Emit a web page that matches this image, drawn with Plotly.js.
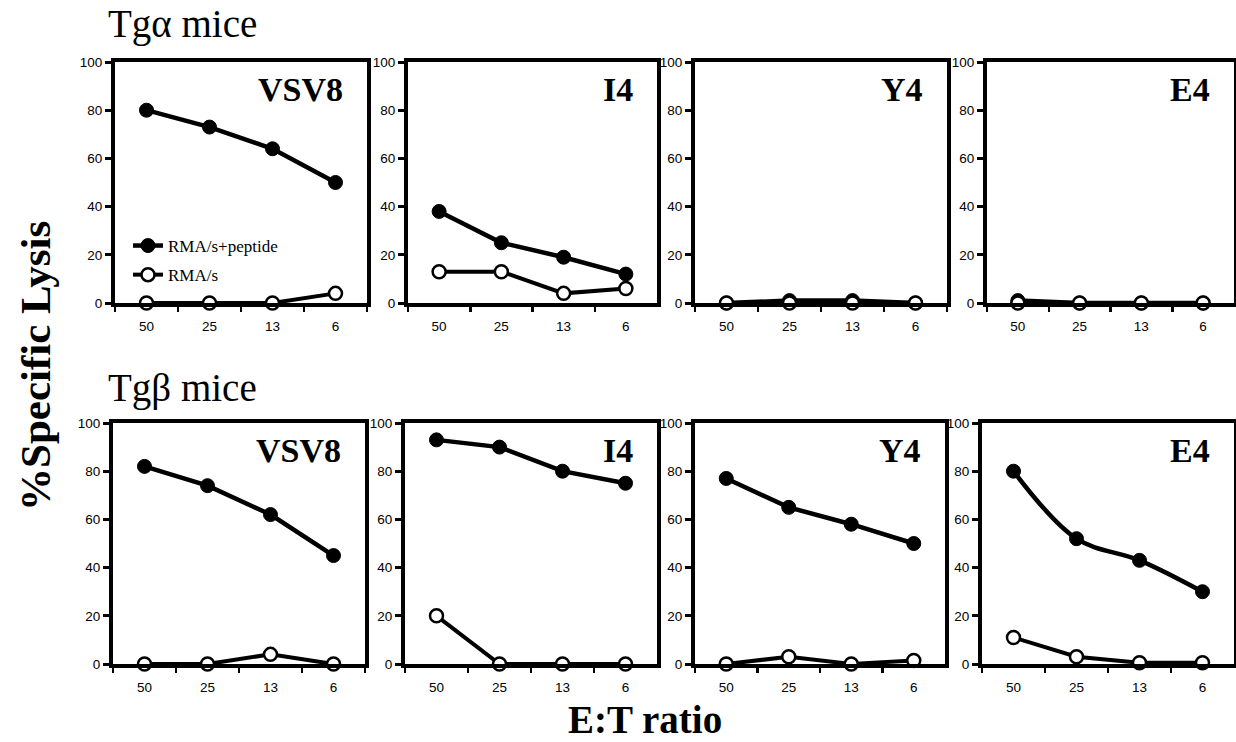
<!DOCTYPE html>
<html>
<head>
<meta charset="utf-8">
<script src="https://cdn.plot.ly/plotly-3.0.1.min.js"></script>
<style>html,body{margin:0;padding:0;background:#fff;}#chart{width:1236px;height:742px;}</style>
</head>
<body>
<div id="chart"></div>
<script>
// ---- data ----
const categories = ["50", "25", "13", "6"];
const panelNames = ["VSV8", "I4", "Y4", "E4"];
const rowTitles = ["Tg\u03b1 mice", "Tg\u03b2 mice"];
const seriesNames = ["RMA/s+peptide", "RMA/s"];

// Tg alpha mice (top row)
const tgaPeptide_VSV8 = [80, 73, 64, 50];
const tgaPeptide_I4   = [38, 25, 19, 12];
const tgaPeptide_Y4   = [0, 1, 1, 0];
const tgaPeptide_E4   = [1, 0, 0, 0];
const tgaRMAs_VSV8 = [0, 0, 0, 4];
const tgaRMAs_I4   = [13, 13, 4, 6];
const tgaRMAs_Y4   = [0, 0, 0, 0];
const tgaRMAs_E4   = [0, 0, 0, 0];

// Tg beta mice (bottom row)
const tgbPeptide_VSV8 = [82, 74, 62, 45];
const tgbPeptide_I4   = [93, 90, 80, 75];
const tgbPeptide_Y4   = [77, 65, 58, 50];
const tgbPeptide_E4   = [80, 52, 43, 30];
const tgbRMAs_VSV8 = [0, 0, 4, 0];
const tgbRMAs_I4   = [20, 0, 0, 0];
const tgbRMAs_Y4   = [0, 3, 0, 1.5];
const tgbRMAs_E4   = [11, 3, 0.5, 0.5];

const yTickVals = [0, 20, 40, 60, 80, 100];

const peptideRows = [
  [tgaPeptide_VSV8, tgaPeptide_I4, tgaPeptide_Y4, tgaPeptide_E4],
  [tgbPeptide_VSV8, tgbPeptide_I4, tgbPeptide_Y4, tgbPeptide_E4]
];
const rmasRows = [
  [tgaRMAs_VSV8, tgaRMAs_I4, tgaRMAs_Y4, tgaRMAs_E4],
  [tgbRMAs_VSV8, tgbRMAs_I4, tgbRMAs_Y4, tgbRMAs_E4]
];

// ---- layout geometry (pixels) ----
const W = 1236, H = 742;
const lefts  = [[115, 408, 695, 987], [113, 405, 695, 982]];
const rights = [[367, 657, 947, 1234], [365, 657, 945, 1234]];
const tops = [62, 423], bottoms = [303, 664];

const serif = "Liberation Serif, Times New Roman, serif";
const sans = "Liberation Sans, Arial, sans-serif";

const traces = [];
const layout = {
  width: W, height: H,
  margin: {l: 0, r: 0, t: 0, b: 0},
  paper_bgcolor: "#fff", plot_bgcolor: "#fff",
  showlegend: true,
  legend: {
    x: 128 / W, y: 1 - 228 / H, xanchor: "left", yanchor: "top",
    bgcolor: "rgba(0,0,0,0)", borderwidth: 0,
    font: {family: serif, size: 17, color: "#000"},
    tracegroupgap: 4, itemwidth: 30
  },
  annotations: []
};

let idx = 0;
for (let r = 0; r < 2; r++) {
  for (let c = 0; c < 4; c++) {
    idx++;
    const xa = "x" + (idx === 1 ? "" : idx);
    const ya = "y" + (idx === 1 ? "" : idx);
    const xkey = "xaxis" + (idx === 1 ? "" : idx);
    const ykey = "yaxis" + (idx === 1 ? "" : idx);
    layout[xkey] = {
      domain: [lefts[r][c] / W, rights[r][c] / W],
      anchor: ya,
      type: "category",
      categoryorder: "array", categoryarray: categories,
      range: [-0.5, 3.5],
      showline: true, linewidth: 4, linecolor: "#000", mirror: true,
      ticks: "outside", tickson: "boundaries", ticklen: 5, tickwidth: 2.5, tickcolor: "#000",
      ticklabelstandoff: 8,
      showgrid: false, zeroline: false, fixedrange: true,
      tickfont: {family: sans, size: 13.5, color: "#000"}
    };
    layout[ykey] = {
      domain: [1 - bottoms[r] / H, 1 - tops[r] / H],
      anchor: xa,
      range: [0, 100],
      tickvals: yTickVals,
      showline: true, linewidth: 4, linecolor: "#000", mirror: true,
      ticks: "outside", ticklen: 6, tickwidth: 3, tickcolor: "#000",
      showgrid: false, zeroline: false, fixedrange: true,
      tickfont: {family: sans, size: 13.5, color: "#000"}
    };
    const showLeg = (idx === 1);
    traces.push({
      x: categories, y: peptideRows[r][c], xaxis: xa, yaxis: ya,
      type: "scatter", mode: "lines+markers", name: seriesNames[0],
      legendgroup: "pep", showlegend: showLeg, cliponaxis: false,
      line: {color: "#000", width: 4.5, shape: (r === 1 && c === 3) ? "spline" : "linear"},
      marker: {symbol: "circle", size: 14, color: "#000", line: {color: "#000", width: 1}}
    });
    traces.push({
      x: categories, y: rmasRows[r][c], xaxis: xa, yaxis: ya,
      type: "scatter", mode: "lines+markers", name: seriesNames[1],
      legendgroup: "rmas", showlegend: showLeg, cliponaxis: false,
      line: {color: "#000", width: 4},
      marker: {symbol: "circle", size: 13, color: "#fff", line: {color: "#000", width: 2.5}}
    });
    // panel label
    layout.annotations.push({
      text: "<b>" + panelNames[c] + "</b>",
      xref: "paper", yref: "paper",
      x: (rights[r][c] - 22) / W, y: 1 - (tops[r] + 27) / H,
      xanchor: "right", yanchor: "middle", showarrow: false,
      font: {family: serif, size: 34, color: "#000"}
    });
  }
}

// row titles
layout.annotations.push({
  text: rowTitles[0], xref: "paper", yref: "paper",
  x: 106 / W, y: 1 - 24 / H, xanchor: "left", yanchor: "middle", showarrow: false,
  font: {family: serif, size: 39, color: "#000"}
});
layout.annotations.push({
  text: rowTitles[1], xref: "paper", yref: "paper",
  x: 106 / W, y: 1 - 388 / H, xanchor: "left", yanchor: "middle", showarrow: false,
  font: {family: serif, size: 39, color: "#000"}
});
// axis titles
layout.annotations.push({
  text: "<b>%Specific Lysis</b>", xref: "paper", yref: "paper",
  x: 35 / W, y: 1 - 366 / H, xanchor: "center", yanchor: "middle", textangle: -90,
  showarrow: false, font: {family: serif, size: 43, color: "#000"}
});
layout.annotations.push({
  text: "<b>E:T ratio</b>", xref: "paper", yref: "paper",
  x: 645 / W, y: 0, xanchor: "center", yanchor: "bottom",
  borderpad: 0,
  showarrow: false, font: {family: serif, size: 39, color: "#000"}
});

Plotly.newPlot("chart", traces, layout, {displayModeBar: false, staticPlot: true});
</script>
</body>
</html>
